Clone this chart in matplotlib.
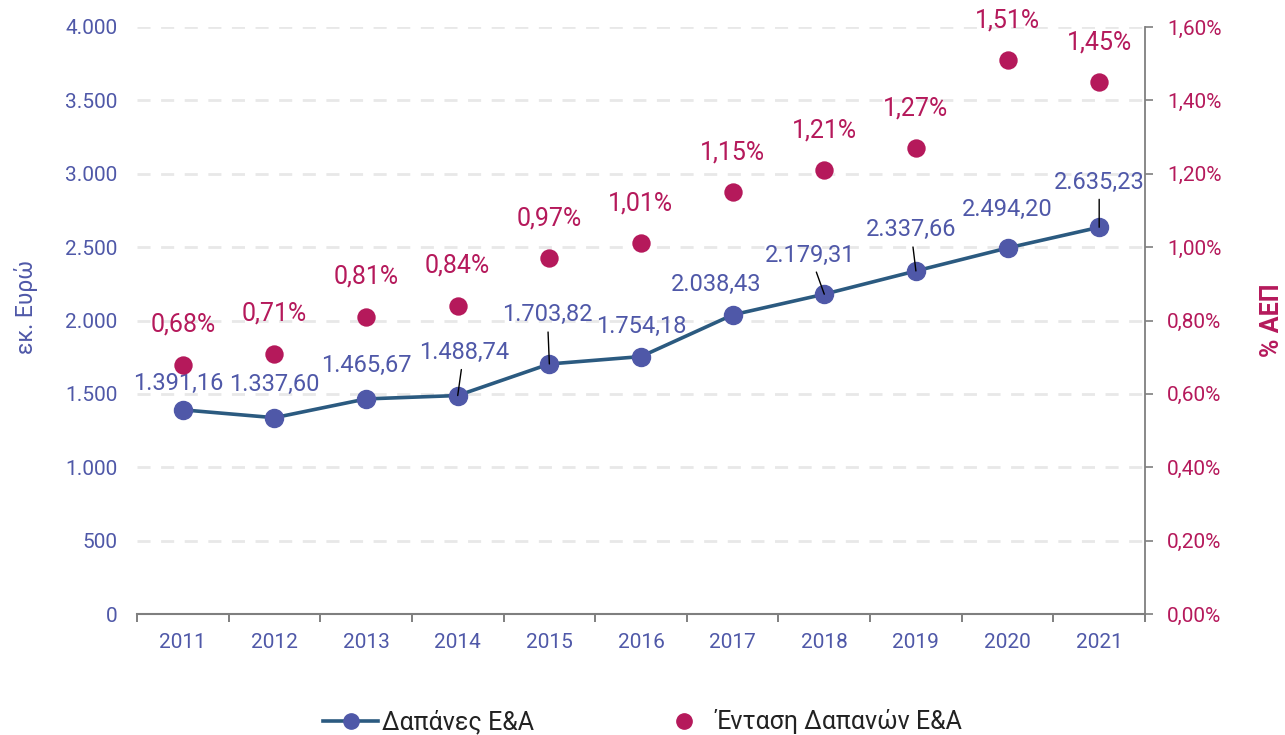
import matplotlib
matplotlib.use("Agg")
import matplotlib.pyplot as plt
import numpy as np
from matplotlib.lines import Line2D
from matplotlib.ticker import FuncFormatter

plt.rcParams["font.family"] = ["Roboto", "DejaVu Sans"]

# data
years = ["2011", "2012", "2013", "2014", "2015", "2016", "2017", "2018", "2019", "2020", "2021"]
spending = [1391.16, 1337.60, 1465.67, 1488.74, 1703.82, 1754.18, 2038.43, 2179.31, 2337.66, 2494.20, 2635.23]
intensity = [0.68, 0.71, 0.81, 0.84, 0.97, 1.01, 1.15, 1.21, 1.27, 1.51, 1.45]

# label placement (pixels from the point) and which labels get a leader line
spend_offsets = [(-5, 26), (0, 33), (0, 33), (6, 43), (-2, 49), (0, 30),
                 (-17, 30), (-14, 39), (-5, 41), (0, 39), (0, 45)]
spend_leaders = [False, False, False, True, True, False, False, True, True, False, True]

LINE_C = "#2b5a80"
BLUE = "#4f58a8"
CRIMSON = "#b5195b"
GRAY = "#7f7f7f"


def greek_num(v, dec=2):
    s = f"{v:,.{dec}f}"
    return s.replace(",", "X").replace(".", ",").replace("X", ".")


fig = plt.figure(figsize=(12.85, 7.35), dpi=100)
ax = fig.add_axes([137 / 1285, 1 - 614 / 735, 1008 / 1285, 587 / 735])
ax2 = ax.twinx()

x = np.arange(len(years))

# left axis: spending line
ax.plot(x, spending, color=LINE_C, lw=2.6, zorder=3)
ax.plot(x, spending, ls="none", marker="o", ms=13, mfc=BLUE, mec=BLUE, zorder=4)
for i, v in enumerate(spending):
    arrow = dict(arrowstyle="-", color="black", lw=1.0, shrinkA=2, shrinkB=0) if spend_leaders[i] else None
    ax.annotate(greek_num(v), xy=(i, v), xytext=spend_offsets[i], textcoords="offset pixels",
                ha="center", va="center", color=BLUE, fontsize=17, zorder=5, arrowprops=arrow)

ax.set_xlim(-0.5, len(years) - 0.5)
ax.set_ylim(0, 4000)
ax.set_yticks(np.arange(0, 4001, 500))
ax.yaxis.set_major_formatter(FuncFormatter(lambda v, p: greek_num(v, 0)))
ax.set_xticks(x)
ax.set_xticklabels(years)
ax.set_xticks(np.arange(-0.5, len(years), 1), minor=True)
ax.tick_params(axis="x", which="major", length=0, pad=14, labelsize=15, labelcolor=BLUE)
ax.tick_params(axis="x", which="minor", length=6, width=1.4, color=GRAY)
ax.tick_params(axis="y", length=0, pad=14, labelsize=15, labelcolor=BLUE)
ax.yaxis.grid(True, color="#e8e8e8", lw=2, linestyle=(0, (4.7, 3.8)))
ax.set_axisbelow(True)
for s in ["left", "top", "right"]:
    ax.spines[s].set_visible(False)
ax.spines["bottom"].set_color(GRAY)
ax.spines["bottom"].set_linewidth(1.5)
ax.set_ylabel("εκ. Ευρώ", color=BLUE, fontsize=16.5, va="center")
ax.yaxis.set_label_coords(-0.110, 0.523)

# right axis: intensity dots
ax2.scatter(x, intensity, s=175, color=CRIMSON, zorder=4, linewidths=0)
for i, v in enumerate(intensity):
    ax2.annotate(greek_num(v) + "%", xy=(i, v), xytext=(0, 40), textcoords="offset pixels",
                 ha="center", va="center", color=CRIMSON, fontsize=18)
ax2.set_ylim(0, 1.6)
ax2.set_yticks(np.arange(0, 1.61, 0.2))
ax2.yaxis.set_major_formatter(FuncFormatter(lambda v, p: greek_num(v) + "%"))
ax2.tick_params(axis="y", length=6, width=1.2, color=GRAY, pad=10, labelsize=15, labelcolor=CRIMSON)
for s in ["left", "top", "bottom"]:
    ax2.spines[s].set_visible(False)
ax2.spines["right"].set_color(GRAY)
ax2.spines["right"].set_linewidth(1.3)
ax2.set_ylabel("% ΑΕΠ", color=CRIMSON, fontsize=18, fontweight="bold", va="center", rotation=90)
ax2.yaxis.set_label_coords(1.126, 0.5)

handles = [
    Line2D([], [], color=LINE_C, lw=2.6, marker="o", ms=11, mfc=BLUE, mec=BLUE),
    Line2D([], [], ls="none", marker="o", ms=11, mfc=CRIMSON, mec=CRIMSON),
]
fig.legend(handles, ["Δαπάνες Ε&Α", "Ένταση Δαπανών Ε&Α"], loc="center",
           bbox_to_anchor=(0.5, 0.018), ncol=2, frameon=False, fontsize=18,
           handlelength=2.2, handletextpad=0.15, columnspacing=4.9, labelcolor="#222222")

fig.savefig("out.png", dpi=100, facecolor="white")
